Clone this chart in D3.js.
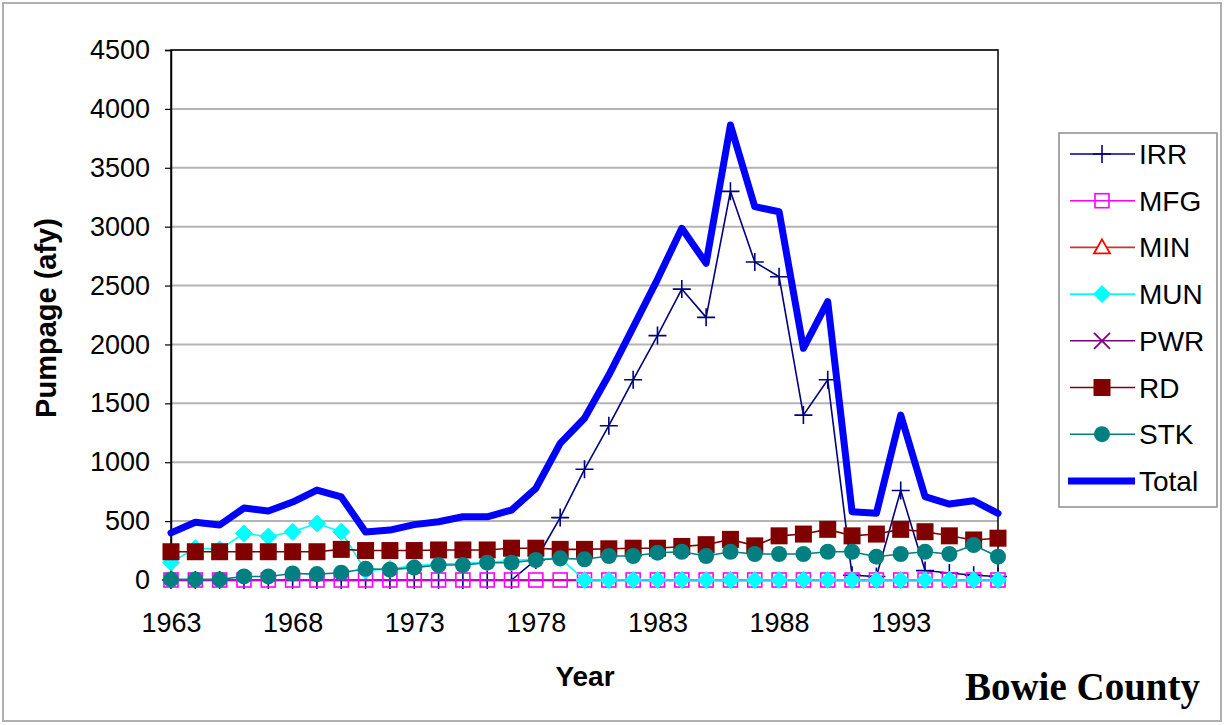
<!DOCTYPE html>
<html><head><meta charset="utf-8">
<script src="https://cdn.jsdelivr.net/npm/d3@7"></script>
<style>
body{margin:0;background:#fff}
text{font-family:"Liberation Sans",Arial,sans-serif;fill:#000}
</style>
</head><body>
<svg id="c" width="1225" height="725"></svg>
<script>
// ---------- data ----------
const years = [1963,1964,1965,1966,1967,1968,1969,1970,1971,1972,1973,1974,1975,1976,1977,1978,1979,1980,1981,1982,1983,1984,1985,1986,1987,1988,1989,1990,1991,1992,1993,1994,1995,1996,1997];
const IRR   = [0,0,0,0,0,0,0,0,0,0,0,0,0,0,0,170,530,940,1310,1700,2075,2470,2230,3300,2700,2575,1400,1700,40,30,760,80,60,40,30];
const MFG   = [0,0,0,0,0,0,0,0,0,0,0,0,0,0,0,0,0,0,0,0,0,0,0,0,0,0,0,0,0,0,0,0,0,0,0];
const MIN   = years.map(() => null);
const MUN   = [150,270,260,395,370,410,480,410,80,95,120,135,140,150,165,175,185,0,0,0,0,0,0,0,0,0,0,0,0,0,0,0,0,0,0];
const PWR   = years.map(() => null);
const RD    = [240,240,240,240,240,240,240,260,250,250,250,255,255,255,270,270,260,260,265,270,270,285,300,345,290,375,390,430,375,390,430,410,375,340,355];
const STK   = [5,5,5,30,30,55,50,62,95,88,105,127,127,147,147,170,184,176,204,204,232,240,204,240,221,221,221,240,240,198,221,240,221,297,198];
const Total = [400,490,467,611,586,662,764,705,408,424,470,495,537,537,594,778,1160,1373,1740,2145,2553,2986,2689,3863,3170,3127,1967,2363,580,566,1400,708,645,673,566];
const yTicks = [0,500,1000,1500,2000,2500,3000,3500,4000,4500];
const xLabelYears = [1963,1968,1973,1978,1983,1988,1993];

// ---------- style per series ----------
const series = [
  {name:"IRR",   values:IRR,   color:"#000080", marker:"plus"},
  {name:"MFG",   values:MFG,   color:"#FF00FF", marker:"opensquare"},
  {name:"MIN",   values:MIN,   color:"#CC3333", marker:"triangle", mcolor:"#FF0000"},
  {name:"MUN",   values:MUN,   color:"#00FFFF", marker:"diamond"},
  {name:"PWR",   values:PWR,   color:"#800080", marker:"x"},
  {name:"RD",    values:RD,    color:"#800000", marker:"square"},
  {name:"STK",   values:STK,   color:"#008080", marker:"circle"},
  {name:"Total", values:Total, color:"#0000FF", marker:null, width:7}
];

const svg = d3.select("#c");
const x = d3.scalePoint().domain(years).range([171, 998]);
const y = d3.scaleLinear().domain([0, 4500]).range([580, 50]);

// outer chart border
svg.append("rect").attr("x",3).attr("y",3).attr("width",1218).attr("height",718)
  .attr("fill","#fff").attr("stroke","#b0b0b0").attr("stroke-width",2);

// gridlines
svg.append("g").selectAll("line").data(yTicks.filter(t => t > 0)).join("line")
  .attr("x1",171).attr("x2",998)
  .attr("y1",d => y(d)).attr("y2",d => y(d))
  .attr("stroke","#b4b4b4").attr("stroke-width",2);

// plot frame
svg.append("rect").attr("x",171).attr("y",50).attr("width",827).attr("height",530)
  .attr("fill","none").attr("stroke","#000").attr("stroke-width",1.5);

// y axis
const gy = svg.append("g").attr("transform","translate(171,0)")
  .call(d3.axisLeft(y).tickValues(yTicks).tickSize(6).tickPadding(15).tickFormat(d3.format("d")));
gy.select(".domain").attr("stroke","#000").attr("stroke-width",1.5);
gy.selectAll(".tick line").attr("stroke","#000").attr("stroke-width",1.2);
gy.selectAll(".tick text").attr("font-size",27).attr("font-family","Liberation Sans, Arial, sans-serif");

// x axis
const gx = svg.append("g").attr("transform","translate(0,580)")
  .call(d3.axisBottom(x).tickValues(xLabelYears).tickSize(0).tickPadding(33));
gx.select(".domain").attr("stroke","#000").attr("stroke-width",1.5);
gx.selectAll(".tick text").attr("font-size",27).attr("font-family","Liberation Sans, Arial, sans-serif");

// axis titles
svg.append("text").attr("transform","translate(56,318) rotate(-90)")
  .attr("text-anchor","middle").attr("font-size",29).attr("font-weight","bold")
  .text("Pumpage (afy)");
svg.append("text").attr("x",585).attr("y",686)
  .attr("text-anchor","middle").attr("font-size",28).attr("font-weight","bold")
  .text("Year");
svg.append("text").attr("x",1200).attr("y",700)
  .attr("text-anchor","end").attr("font-size",39).attr("font-weight","bold")
  .style("font-family","'Liberation Serif','Times New Roman',serif")
  .text("Bowie County");

// marker drawing
function drawMarker(sel, s) {
  const c = s.mcolor || s.color;
  switch (s.marker) {
    case "plus":
      sel.append("path").attr("d","M-9,0H9M0,-9V9").attr("stroke",c).attr("stroke-width",1.6).attr("fill","none"); break;
    case "opensquare":
      sel.append("rect").attr("x",-7).attr("y",-7).attr("width",14).attr("height",14)
        .attr("fill","none").attr("stroke",c).attr("stroke-width",1.6); break;
    case "triangle":
      sel.append("path").attr("d","M0,-8L8,6L-8,6Z").attr("fill","#fff").attr("stroke",c).attr("stroke-width",1.8); break;
    case "diamond":
      sel.append("path").attr("d","M0,-8.5L8.5,0L0,8.5L-8.5,0Z").attr("fill",c).attr("stroke",c).attr("stroke-width",1); break;
    case "x":
      sel.append("path").attr("d","M-8,-8L8,8M-8,8L8,-8").attr("stroke",c).attr("stroke-width",1.8).attr("fill","none"); break;
    case "square":
      sel.append("rect").attr("x",-8.5).attr("y",-8.5).attr("width",17).attr("height",17).attr("fill",c); break;
    case "circle":
      sel.append("circle").attr("r",8).attr("fill",c); break;
  }
}

const line = d3.line().defined(d => d.v != null).x(d => x(d.year)).y(d => y(d.v));

series.forEach(s => {
  const pts = years.map((yr, i) => ({year: yr, v: s.values[i]}));
  const g = svg.append("g");
  g.append("path").datum(pts).attr("d", line)
    .attr("fill","none").attr("stroke", s.color)
    .attr("stroke-width", s.width || 1.6)
    .attr("stroke-linejoin","round").attr("stroke-linecap","round");
  if (s.marker) {
    g.selectAll("g.m").data(pts.filter(d => d.v != null)).join("g").attr("class","m")
      .attr("transform", d => `translate(${x(d.year)},${y(d.v)})`)
      .each(function(){ drawMarker(d3.select(this), s); });
  }
});

// legend
const lg = svg.append("g");
lg.append("rect").attr("x",1059).attr("y",133).attr("width",158).attr("height",374)
  .attr("fill","#fff").attr("stroke","#8c8c8c").attr("stroke-width",1.5);
series.forEach((s, i) => {
  const cy = 154 + i * 46.7;
  const it = lg.append("g").attr("transform",`translate(0,${cy})`);
  it.append("line").attr("x1", s.marker ? 1070 : 1068).attr("x2",1135).attr("y1",0).attr("y2",0)
    .attr("stroke", s.color).attr("stroke-width", s.width ? 7 : 1.6);
  if (s.marker) {
    const m = it.append("g").attr("transform","translate(1102,0)");
    drawMarker(m, s);
  }
  it.append("text").attr("x",1139).attr("y",0).attr("dy","0.36em")
    .attr("font-size",28).text(s.name);
});
</script>
</body></html>
